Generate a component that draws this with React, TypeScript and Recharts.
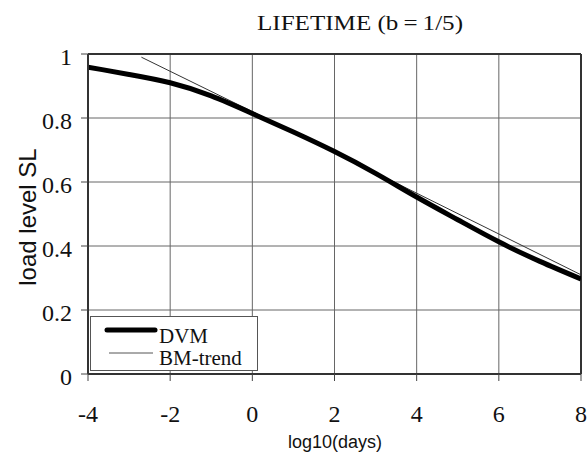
import React from 'react'
import {
  LineChart,
  Line,
  XAxis,
  YAxis,
  CartesianGrid,
  ReferenceLine
} from 'recharts'

// log10(days) and load level
const dvmDays = [-4, -3, -2, -1, 0, 1, 2, 3, 4, 5, 6, 7, 8]
const dvmLevel = [0.959, 0.936, 0.91, 0.869, 0.814, 0.756, 0.695, 0.627, 0.553, 0.482, 0.413, 0.352, 0.297]

const trendDays = [-2.7, 0, 4, 8]
const trendLevel = [0.99, 0.82, 0.565, 0.31]

const xTicks = [-4, -2, 0, 2, 4, 6, 8]
const yTicks = [0, 0.2, 0.4, 0.6, 0.8, 1]

const dvmData = dvmDays.map((x, i) => ({ x, y: dvmLevel[i] }))
const trendData = trendDays.map((x, i) => ({ x, y: trendLevel[i] }))

const serif = 'Liberation Serif, Times New Roman, serif'
const sans = 'Liberation Sans, Arial, sans-serif'

const YTick = (props: any) => {
  const { x, y, payload } = props
  return (
    <text x={x} y={y + 11} textAnchor="end" fill="#111" style={{ fontFamily: serif, fontSize: 24 }}>
      {payload.value}
    </text>
  )
}

const XTick = (props: any) => {
  const { x, y, payload } = props
  return (
    <text x={x} y={y + 16} textAnchor="middle" fill="#111" style={{ fontFamily: serif, fontSize: 24 }}>
      {payload.value}
    </text>
  )
}

const LegendBox = () => (
  <div
    style={{
      position: 'absolute',
      left: 90,
      top: 316,
      width: 168,
      height: 55,
      border: '1px solid #555',
      background: '#fff',
      fontFamily: serif,
      fontSize: 21,
      color: '#111',
      boxSizing: 'border-box'
    }}
  >
    <svg width={168} height={55} style={{ position: 'absolute', left: -1, top: -1 }}>
      <line x1={17} y1={14} x2={65} y2={14} stroke="#000" strokeWidth={5} strokeLinecap="round" />
      <line x1={19} y1={37} x2={63} y2={37} stroke="#555" strokeWidth={1} />
    </svg>
    <span style={{ position: 'absolute', left: 68, top: 7, lineHeight: '24px' }}>DVM</span>
    <span style={{ position: 'absolute', left: 68, top: 29, lineHeight: '24px' }}>BM-trend</span>
  </div>
)

const App: React.FC = () => {
  return (
    <div style={{ position: 'absolute', left: 0, top: 0, width: 588, height: 454, background: '#fff' }}>
      <LineChart
        width={588}
        height={454}
        margin={{ top: 54, right: 7, bottom: 46, left: 0 }}
      >
        <CartesianGrid stroke="#666" strokeWidth={1} />
        <XAxis
          type="number"
          dataKey="x"
          domain={[-4, 8]}
          ticks={xTicks}
          allowDataOverflow
          height={34}
          tickSize={7}
          tickMargin={25}
          tickLine={{ stroke: '#444' }}
          axisLine={{ stroke: '#333', strokeWidth: 2 }}
          tick={<XTick />}
        />
        <YAxis
          type="number"
          dataKey="y"
          domain={[0, 1]}
          ticks={yTicks}
          width={88}
          tickSize={7}
          tickMargin={9}
          tickLine={{ stroke: '#444' }}
          axisLine={{ stroke: '#333', strokeWidth: 2 }}
          tick={<YTick />}
        />
        <ReferenceLine y={1} stroke="#333" strokeWidth={2} />
        <ReferenceLine x={8} stroke="#333" strokeWidth={2} />
        <Line
          data={trendData}
          dataKey="y"
          type="linear"
          stroke="#333"
          strokeWidth={1}
          dot={false}
          name="BM-trend"
          isAnimationActive={false}
        />
        <Line
          data={dvmData}
          dataKey="y"
          type="natural"
          stroke="#000"
          strokeWidth={5}
          dot={false}
          name="DVM"
          isAnimationActive={false}
        />
      </LineChart>
      <LegendBox />
      <div
        style={{
          position: 'absolute',
          left: 257,
          top: 10,
          fontFamily: serif,
          fontSize: 22,
          lineHeight: '26px',
          color: '#111',
          whiteSpace: 'nowrap',
          transform: 'scaleX(1.14)',
          transformOrigin: 'left top'
        }}
      >
        LIFETIME (b{'\u2009'}={'\u2009'}1/5)
      </div>
      <div
        style={{
          position: 'absolute',
          left: 28,
          top: 217,
          transform: 'translate(-50%, -50%) rotate(-90deg)',
          fontFamily: sans,
          fontSize: 24,
          color: '#111',
          whiteSpace: 'nowrap'
        }}
      >
        load level SL
      </div>
      <div
        style={{
          position: 'absolute',
          left: 335,
          top: 442,
          transform: 'translate(-50%, -50%)',
          fontFamily: sans,
          fontSize: 18,
          lineHeight: '20px',
          color: '#111',
          whiteSpace: 'nowrap'
        }}
      >
        log10(days)
      </div>
    </div>
  )
}

export default App
